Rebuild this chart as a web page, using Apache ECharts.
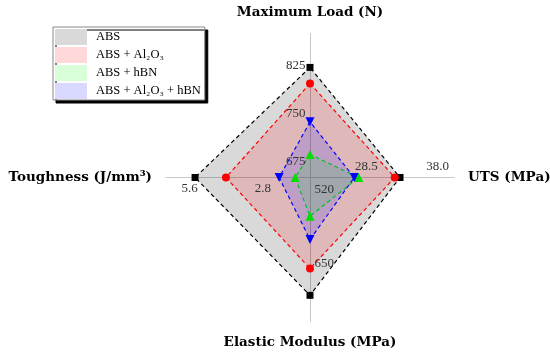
<!DOCTYPE html>
<html>
<head>
<meta charset="utf-8">
<script src="https://cdn.jsdelivr.net/npm/echarts@6/dist/echarts.min.js"></script>
<style>
    html, body { margin: 0; padding: 0; background: #fff; }
    #chart { width: 550px; height: 355px; }
</style>
</head>
<body>
<div id="chart"></div>
<script>
// radar axes, counter-clockwise from the top
var indicatorNames = ['Maximum Load (N)', 'Toughness (J/mm³)', 'Elastic Modulus (MPa)', 'UTS (MPa)'];
var indicatorMin = [650, 1, 498, 21];
var indicatorMax = [875, 6.5, 751, 40.2];

var seriesNames = ['ABS', 'ABS + Al₂O₃', 'ABS + hBN', 'ABS + Al₂O₃ + hBN'];
var absValues = [822, 5.39, 705, 33.0];
var al2o3Values = [797, 4.21, 658, 32.3];
var hbnValues = [686, 1.57, 566, 27.5];
var hybridValues = [737, 2.18, 607, 26.9];

// tick labels on each axis
var loadTicks = ['825', '750', '675'];
var toughTicks = ['5.6', '2.8'];
var modulusTicks = ['650', '520'];
var utsTicks = ['38.0', '28.5'];

var serif = '"Liberation Serif", "DejaVu Serif", serif';
var wideSerif = '"DejaVu Serif", serif';

function tickItems(ticks, dim, pos) {
    return ticks.map(function (t) {
        var v = [null, null, null, null];
        v[dim] = parseFloat(t);
        return {name: t, value: v, label: {position: pos}};
    });
}

var tickData = [].concat(
    tickItems(loadTicks, 0, 'left'),
    tickItems(toughTicks, 1, 'bottom'),
    tickItems(modulusTicks, 2, 'right'),
    tickItems(utsTicks, 3, 'top')
);

function dataSeries(name, values, color, symbol, size) {
    return {
        name: name,
        type: 'radar',
        symbol: symbol,
        symbolSize: size,
        itemStyle: {color: color},
        lineStyle: {color: color, width: 1.2, type: [4, 3]},
        areaStyle: {color: color === '#00dd00' ? '#00ff00' : color, opacity: 0.15},
        data: [{name: name, value: values}]
    };
}

var chart = echarts.init(document.getElementById('chart'));

var option = {
    animation: false,
    legend: {
        left: 53,
        top: 27,
        orient: 'vertical',
        icon: 'rect',
        itemWidth: 32,
        itemHeight: 16,
        itemGap: 2,
        padding: [2, 4, 1, 2],
        backgroundColor: '#fff',
        borderColor: '#888',
        borderWidth: 1,
        shadowColor: '#000',
        shadowBlur: 0,
        shadowOffsetX: 3,
        shadowOffsetY: 3,
        itemStyle: {borderWidth: 0, borderColor: 'rgba(0,0,0,0)', borderType: 'solid'},
        lineStyle: {color: 'rgba(0,0,0,0)', type: 'solid'},
        textStyle: {fontFamily: serif, fontSize: 12.5, color: '#000', padding: [0, 0, 0, 4]},
        data: [
            {name: seriesNames[0], itemStyle: {color: '#d9d9d9'}},
            {name: seriesNames[1], itemStyle: {color: '#ffd9d9'}},
            {name: seriesNames[2], itemStyle: {color: '#d9ffd9'}},
            {name: seriesNames[3], itemStyle: {color: '#d9d9ff'}}
        ]
    },
    radar: {
        center: [310, 177.5],
        radius: 144,
        shape: 'polygon',
        startAngle: 90,
        splitLine: {show: false},
        splitArea: {show: false},
        axisTick: {show: false},
        axisLine: {lineStyle: {color: '#c8c8c8', width: 1}},
        axisName: {color: '#000', fontFamily: wideSerif, fontWeight: 'bold', fontSize: 13.5},
        nameGap: 14,
        indicator: indicatorNames.map(function (n, i) {
            return {name: n, min: indicatorMin[i], max: indicatorMax[i]};
        })
    },
    series: [
        dataSeries(seriesNames[0], absValues, '#000000', 'rect', 7),
        dataSeries(seriesNames[1], al2o3Values, '#ff0000', 'circle', 8),
        dataSeries(seriesNames[2], hbnValues, '#00dd00', 'triangle', 9),
        dataSeries(seriesNames[3], hybridValues, '#0000ff', 'path://M0,0 L10,0 L5,9 Z', 9),
        {
            name: 'ticks',
            type: 'radar',
            silent: true,
            symbol: 'circle',
            symbolSize: 1,
            itemStyle: {color: 'rgba(0,0,0,0)'},
            lineStyle: {width: 0, opacity: 0},
            label: {
                show: true,
                color: '#333',
                fontFamily: serif,
                fontSize: 13,
                distance: 4,
                formatter: function (p) {
                    return p.value == null || isNaN(p.value) ? '' : p.name;
                }
            },
            data: tickData
        }
    ]
};

chart.setOption(option);
</script>
</body>
</html>
